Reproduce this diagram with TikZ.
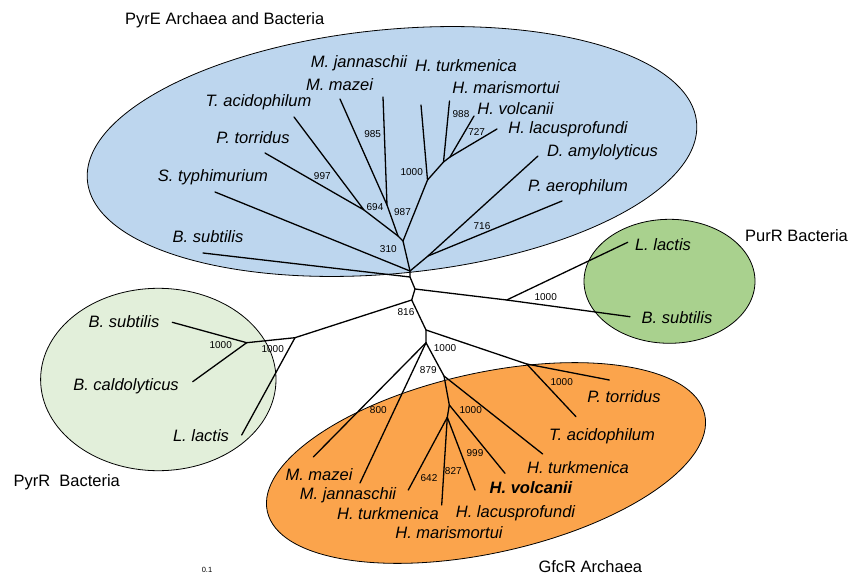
\documentclass[tikz,border=0pt]{standalone}
\usepackage{fontspec}
\setmainfont{Liberation Sans}
\definecolor{pyreblue}{RGB}{189,214,238}
\definecolor{pyrrgreen}{RGB}{226,239,218}
\definecolor{purrgreen}{RGB}{169,209,142}
\definecolor{gfcrorange}{RGB}{251,164,76}
\tikzset{
  branch/.style={line width=1.3pt, line cap=round, line join=round},
  grpshape/.style={draw=black, line width=0.8pt},
  sp/.style={font=\fontsize{16.5}{19}\selectfont\itshape, anchor=base, inner sep=0pt},
  spb/.style={font=\fontsize{16.5}{19}\selectfont\bfseries\itshape, anchor=base, inner sep=0pt},
  bs/.style={font=\fontsize{10}{12}\selectfont, inner sep=0pt},
  grp/.style={font=\fontsize{16.5}{19}\selectfont, inner sep=0pt},
}
\begin{document}
\begin{tikzpicture}[x=1pt,y=-1pt]
\useasboundingbox (0,0) rectangle (848,575);
% group ellipses
\fill[white] (0,0) rectangle (848,575);
\draw[grpshape, fill=pyreblue, rotate around={5.5:(392,151.5)}] (392,151.5) ellipse [x radius=306, y radius=122];
\draw[grpshape, fill=pyrrgreen] (158.3,379.5) ellipse [x radius=117.7, y radius=91.2];
\draw[grpshape, fill=purrgreen] (669.5,281.3) ellipse [x radius=85.5, y radius=62];
\draw[grpshape, fill=gfcrorange, rotate around={12.5:(486,463)}] (486,463) ellipse [x radius=224, y radius=90];

% ---- tree coordinates ----
% central
\coordinate (bR1) at (410,271);
\coordinate (bRb) at (410,277);
\coordinate (cC) at (415,289);
\coordinate (cD) at (411.7,300);
% PyrE clade
\coordinate (tbBsub) at (203,253);
\coordinate (tbSty) at (215,192);
\coordinate (n310) at (403,241);
\coordinate (n694) at (398,236);
\coordinate (n997) at (364,210);
\coordinate (tbPtor) at (265,153);
\coordinate (tbTaci) at (294,117);
\coordinate (n985) at (387,205);
\coordinate (tbMmaz) at (340,99);
\coordinate (tbMjan) at (383,97);
\coordinate (nB1000) at (427.5,180);
\coordinate (tbHtur) at (421,105);
\coordinate (n988) at (443.5,162);
\coordinate (tbHmar) at (449.5,101);
\coordinate (n727) at (450,157);
\coordinate (tbHvol) at (474,116);
\coordinate (tbHlac) at (497,129);
\coordinate (n716) at (428,256);
\coordinate (tbDamy) at (538,156);
\coordinate (tbPaer) at (562,201);
% PurR clade
\coordinate (nP1) at (506.7,300);
\coordinate (tpLlac) at (627.7,242.3);
\coordinate (tpBsub) at (630,316.7);
% PyrR clade
\coordinate (nQ1) at (295,337.7);
\coordinate (nQ2) at (246.7,342.7);
\coordinate (trLlac) at (241.7,435);
\coordinate (trBsub) at (172.3,322.3);
\coordinate (trBcal) at (192.7,381.7);
% GfcR clade
\coordinate (nE) at (426,330);
\coordinate (nT1) at (526.7,364);
\coordinate (tgPtor) at (609.3,380);
\coordinate (tgTaci) at (576,416.7);
\coordinate (nF) at (426,342.7);
\coordinate (tgMmaz) at (313.3,457);
\coordinate (tgMjan) at (360,483);
\coordinate (nG) at (444,376);
\coordinate (tgHtur) at (542.7,454);
\coordinate (nH) at (449.3,405);
\coordinate (tgHvol) at (505,473.3);
\coordinate (nI) at (447.3,417.3);
\coordinate (tgHtur2) at (408.3,490);
\coordinate (tgHmar) at (441.7,505);
\coordinate (tgHlac) at (475,490);

% ---- branches ----
\draw[branch] (bR1) -- (bRb) -- (cC) -- (cD);
\draw[branch] (tbBsub) -- (bRb);
\draw[branch] (tbSty) -- (bR1);
\draw[branch] (bR1) -- (n310) -- (n694) -- (n997);
\draw[branch] (tbPtor) -- (n997) -- (tbTaci);
\draw[branch] (n694) -- (n985);
\draw[branch] (tbMmaz) -- (n985) -- (tbMjan);
\draw[branch] (n310) -- (nB1000) -- (tbHtur);
\draw[branch] (nB1000) -- (n988) -- (tbHmar);
\draw[branch] (n988) -- (n727) -- (tbHvol);
\draw[branch] (n727) -- (tbHlac);
\draw[branch] (bR1) -- (n716) -- (tbDamy);
\draw[branch] (n716) -- (tbPaer);
\draw[branch] (cC) -- (nP1) -- (tpLlac);
\draw[branch] (nP1) -- (tpBsub);
\draw[branch] (cD) -- (nQ1) -- (nQ2) -- (trBsub);
\draw[branch] (nQ2) -- (trBcal);
\draw[branch] (nQ1) -- (trLlac);
\draw[branch] (cD) -- (nE) -- (nT1) -- (tgPtor);
\draw[branch] (nT1) -- (tgTaci);
\draw[branch] (nE) -- (nF) -- (tgMmaz);
\draw[branch] (nF) -- (tgMjan);
\draw[branch] (nF) -- (nG) -- (tgHtur);
\draw[branch] (nG) -- (nH) -- (tgHvol);
\draw[branch] (nH) -- (nI) -- (tgHtur2);
\draw[branch] (nI) -- (tgHmar);
\draw[branch] (nI) -- (tgHlac);

% ---- bootstrap values ----
\node[bs] (b985) at (372.7,134.3) {985};
\node[bs] (b997) at (322.3,176) {997};
\node[bs] (b694) at (375,206.7) {694};
\node[bs] (b987) at (402.5,211.7) {987};
\node[bs] (b310) at (388.3,249) {310};
\node[bs] (bB1000) at (411.7,171.7) {1000};
\node[bs] (b988) at (461,114.5) {988};
\node[bs] (b727) at (476.7,132.3) {727};
\node[bs] (b716) at (482,226) {716};
\node[bs] (bP1000) at (545.7,296.7) {1000};
\node[bs] (bQ2) at (220.7,345) {1000};
\node[bs] (bQ1) at (272.7,349.3) {1000};
\node[bs] (b816) at (406,312.3) {816};
\node[bs] (bE1000) at (445,347.7) {1000};
\node[bs] (bT1000) at (561.7,382.3) {1000};
\node[bs] (b879) at (428.3,370) {879};
\node[bs] (b800) at (378.3,410) {800};
\node[bs] (bH1000) at (470.7,410) {1000};
\node[bs] (b999) at (475,453.3) {999};
\node[bs] (b642) at (429,478.3) {642};
\node[bs] (b827) at (453.3,471) {827};

% ---- species ----
\node[sp] (lbMjan) at (359,68) {M. jannaschii};
\node[sp] (lbHtur) at (466,72) {H. turkmenica};
\node[sp] (lbMmaz) at (339.5,91) {M. mazei};
\node[sp] (lbHmar) at (506,94) {H. marismortui};
\node[sp] (lbTaci) at (258.5,107) {T. acidophilum};
\node[sp] (lbHvol) at (515.5,114) {H. volcanii};
\node[sp] (lbHlac) at (568,133) {H. lacusprofundi};
\node[sp] (lbPtor) at (253,143) {P. torridus};
\node[sp] (lbDamy) at (602.5,157) {D. amylolyticus};
\node[sp] (lbSty) at (213,181) {S. typhimurium};
\node[sp] (lbPaer) at (578,191) {P. aerophilum};
\node[sp] (lbBsub) at (208,242) {B. subtilis};
\node[sp] (lpLlac) at (663,250) {L. lactis};
\node[sp] (lpBsub) at (677,323) {B. subtilis};
\node[sp] (lrBsub) at (124,327) {B. subtilis};
\node[sp] (lrBcal) at (126,390) {B. caldolyticus};
\node[sp] (lrLlac) at (201,441) {L. lactis};
\node[sp] (lgPtor) at (624,402) {P. torridus};
\node[sp] (lgTaci) at (602,440) {T. acidophilum};
\node[sp] (lgHtur) at (578,473) {H. turkmenica};
\node[spb] (lgHvol) at (531,493) {H. volcanii};
\node[sp] (lgMmaz) at (319,480) {M. mazei};
\node[sp] (lgMjan) at (348,499) {M. jannaschii};
\node[sp] (lgHlac) at (515.5,517) {H. lacusprofundi};
\node[sp] (lgHtur2) at (388,519) {H. turkmenica};
\node[sp] (lgHmar) at (449,538) {H. marismortui};

% ---- group titles ----
\node[grp, anchor=base west] (tPyrE) at (125,25) {PyrE Archaea and Bacteria};
\node[grp, anchor=base west] (tPurR) at (745,241) {PurR Bacteria};
\node[grp, anchor=base west] (tPyrR) at (13.3,486) {PyrR \ Bacteria};
\node[grp, anchor=base west] (tGfcR) at (538.3,572) {GfcR Archaea};
\node[font=\fontsize{7.5}{9}\selectfont, inner sep=0pt] (scale) at (207,570) {0.1};
\end{tikzpicture}
\end{document}
